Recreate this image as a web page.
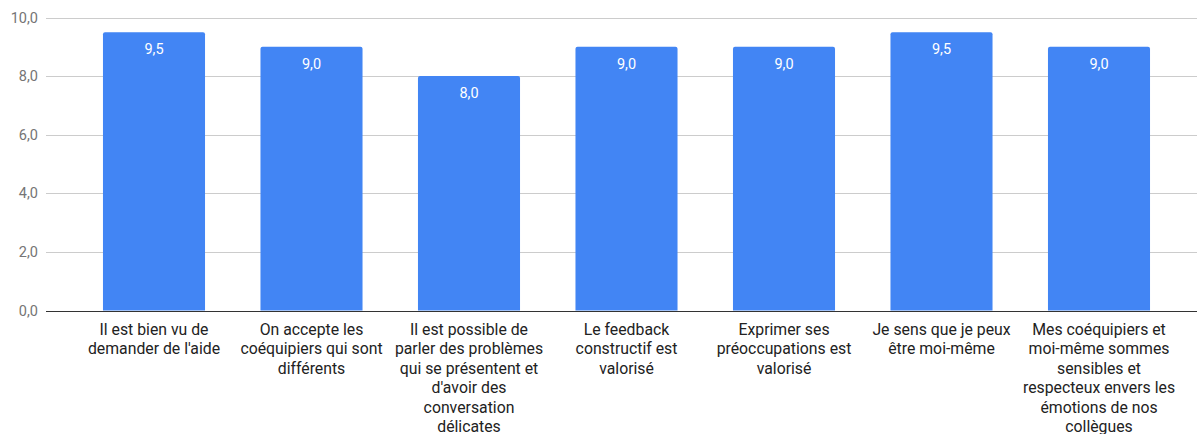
<!DOCTYPE html>
<html>
<head>
<meta charset="utf-8">
<script src="https://cdn.jsdelivr.net/npm/d3@7"></script>
<style>
  body { margin: 0; background: #fff; }
  text { font-family: Roboto, "Noto Sans", sans-serif; }
</style>
</head>
<body>
<div id="chart"></div>
<script>
// categories (line breaks as shown in the original)
const categories = [
  "Il est bien vu de\ndemander de l'aide",
  "On accepte les\ncoéquipiers qui sont\ndifférents",
  "Il est possible de\nparler des problèmes\nqui se présentent et\nd'avoir des\nconversation\ndélicates",
  "Le feedback\nconstructif est\nvalorisé",
  "Exprimer ses\npréoccupations est\nvalorisé",
  "Je sens que je peux\nêtre moi-même",
  "Mes coéquipiers et\nmoi-même sommes\nsensibles et\nrespecteux envers les\némotions de nos\ncollègues"
]
const values = [9.5, 9.0, 8.0, 9.0, 9.0, 9.5, 9.0]
const yTicks = [0, 2, 4, 6, 8, 10]

const width = 1197
const height = 434
const margin = { top: 17.5, left: 46, right: 0, bottom: 123.5 }

const svg = d3
  .select('#chart')
  .append('svg')
  .attr('width', width)
  .attr('height', height)

const fmt = d => d.toFixed(1).replace('.', ',')

const x = d3
  .scaleBand()
  .domain(d3.range(categories.length))
  .range([75.25, 1177.75])
  .paddingInner(0.352)
  .paddingOuter(0.176)

const y = d3
  .scaleLinear()
  .domain([0, 10])
  .range([height - margin.bottom, margin.top])

// gridlines + tick labels
const grid = svg.append('g')
grid
  .selectAll('line')
  .data(yTicks)
  .join('line')
  .attr('x1', margin.left)
  .attr('x2', width - margin.right)
  .attr('y1', d => Math.round(y(d)) + 0.5)
  .attr('y2', d => Math.round(y(d)) + 0.5)
  .attr('stroke', d => (d === 0 ? '#333' : '#ccc'))
  .attr('stroke-width', 1)

grid
  .selectAll('text')
  .data(yTicks)
  .join('text')
  .attr('x', 38)
  .attr('y', d => y(d))
  .attr('dy', '0.35em')
  .attr('text-anchor', 'end')
  .attr('fill', '#757575')
  .style('font-size', '14.5px')
  .text(fmt)

// bars with slightly rounded top corners
const r = 2
svg
  .append('g')
  .selectAll('path')
  .data(values)
  .join('path')
  .attr('fill', '#4285F4')
  .attr('d', (d, i) => {
    const x0 = x(i)
    const x1 = x(i) + x.bandwidth()
    const y0 = y(d)
    const yb = y(0)
    return `M${x0},${yb}V${y0 + r}Q${x0},${y0} ${x0 + r},${y0}H${x1 - r}Q${x1},${y0} ${x1},${y0 + r}V${yb}Z`
  })

// value labels
svg
  .append('g')
  .selectAll('text')
  .data(values)
  .join('text')
  .attr('x', (d, i) => x(i) + x.bandwidth() / 2)
  .attr('y', d => y(d) + 17)
  .attr('dy', '0.35em')
  .attr('text-anchor', 'middle')
  .attr('fill', '#fff')
  .style('font-size', '14.5px')
  .text(fmt)

// category labels
const labels = svg
  .append('g')
  .selectAll('text')
  .data(categories)
  .join('text')
  .attr('text-anchor', 'middle')
  .attr('fill', '#222')
  .style('font-size', '15.8px')
  .attr('transform', (d, i) => `translate(${x(i) + x.bandwidth() / 2},${y(0) + 18.5})`)

labels
  .selectAll('tspan')
  .data(d => d.split('\n'))
  .join('tspan')
  .attr('x', 0)
  .attr('y', (d, i) => i * 19.5)
  .attr('dy', '0.35em')
  .text(d => d)
</script>
</body>
</html>
